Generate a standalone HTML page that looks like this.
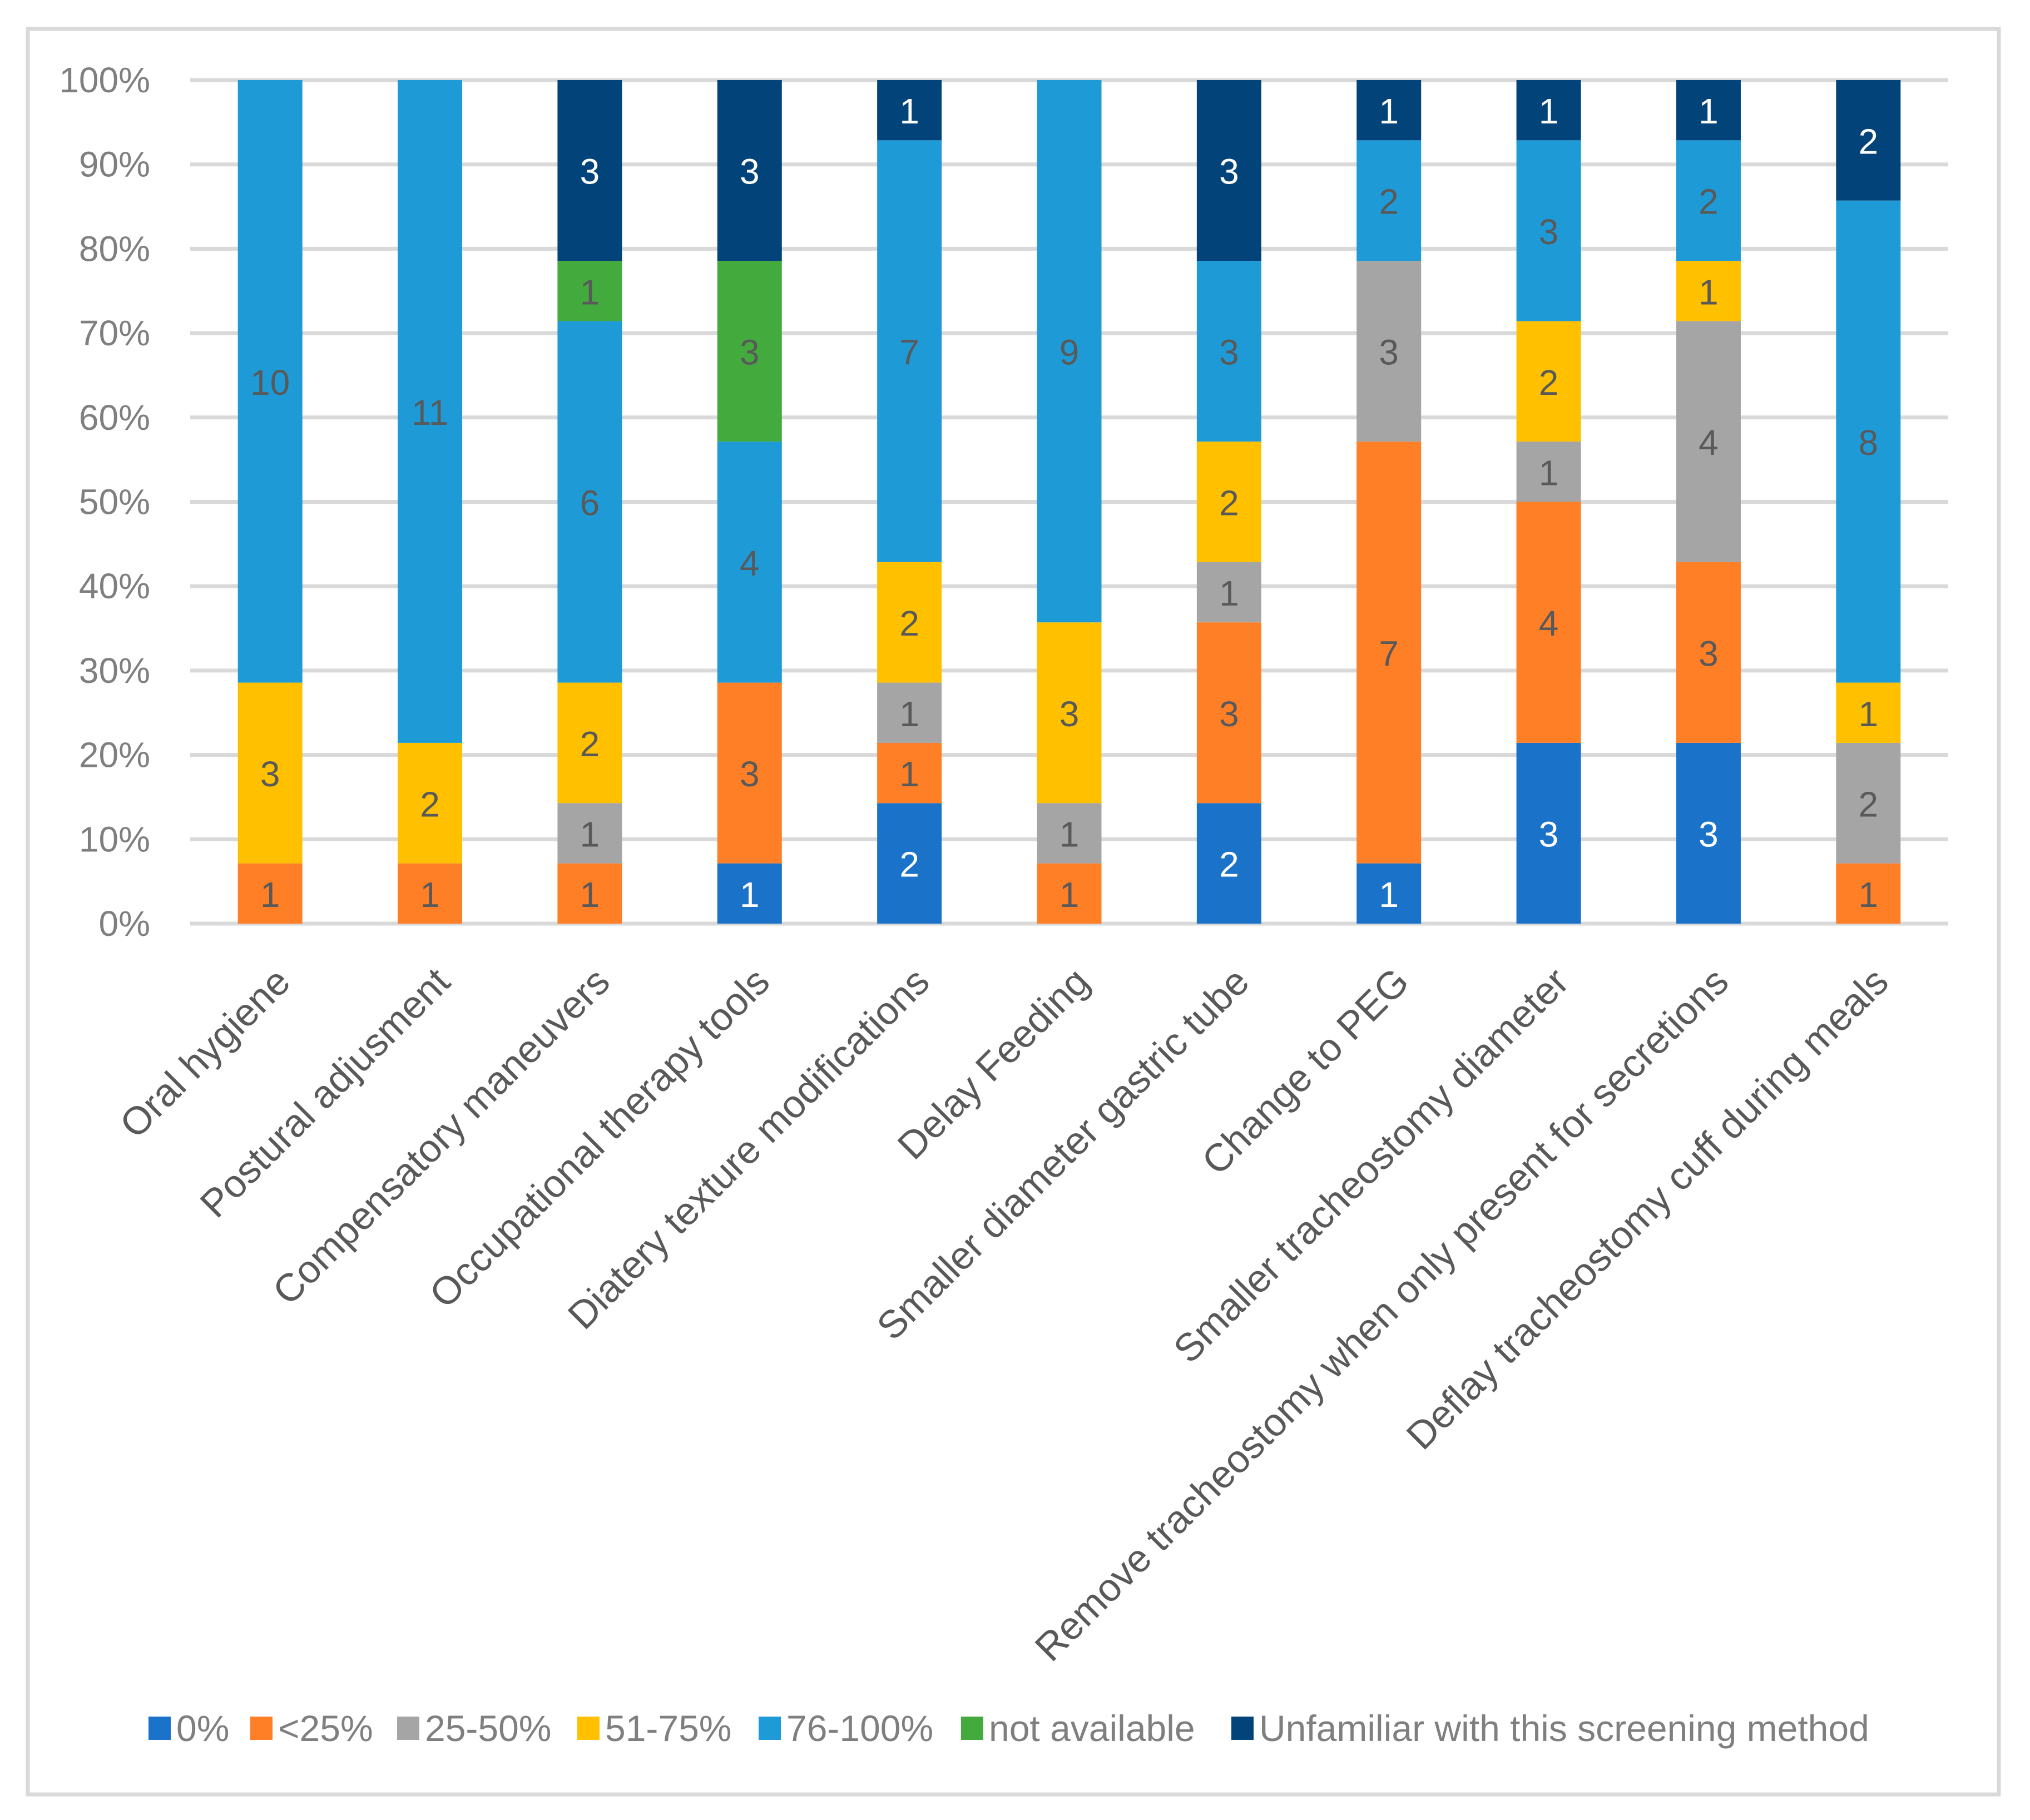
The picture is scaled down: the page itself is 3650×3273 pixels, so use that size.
<!DOCTYPE html>
<html><head><meta charset="utf-8"><style>
html,body{margin:0;padding:0;background:#fff;}
svg{display:block;font-family:"Liberation Sans",sans-serif;}
</style></head><body>
<svg id="chart" width="3650" height="3273" viewBox="0 0 3650 3273">
<rect x="50" y="52" width="3544" height="3175" fill="#fff" stroke="#d9d9d9" stroke-width="7"/>
<g id="grid"></g><g id="bars"></g><g id="ylabels"></g><g id="xlabels"></g><g id="legend"></g>
</svg>
<script>
const categories = ["Oral hygiene","Postural adjusment","Compensatory maneuvers","Occupational therapy tools","Diatery texture modifications","Delay Feeding","Smaller diameter gastric tube","Change to PEG","Smaller tracheostomy diameter","Remove tracheostomy when only present for secretions","Deflay tracheostomy cuff during meals"];
const seriesNames = ["0%","<25%","25-50%","51-75%","76-100%","not available","Unfamiliar with this screening method"];
const s0 = [0,0,0,1,2,0,2,1,3,3,0];
const s1 = [1,1,1,3,1,1,3,7,4,3,1];
const s2 = [0,0,1,0,1,1,1,3,1,4,2];
const s3 = [3,2,2,0,2,3,2,0,2,1,1];
const s4 = [10,11,6,4,7,9,3,2,3,2,8];
const s5 = [0,0,1,3,0,0,0,0,0,0,0];
const s6 = [0,0,3,3,1,0,3,1,1,1,2];
const yTicks = ["0%","10%","20%","30%","40%","50%","60%","70%","80%","90%","100%"];
const series = [s0,s1,s2,s3,s4,s5,s6];
const colors = ["#1A73C8","#FF7F27","#A5A5A5","#FFC000","#1E9BD7","#43AB3D","#024379"];
const labelColors = ["#fff","#595959","#595959","#595959","#595959","#595959","#fff"];
const NS="http://www.w3.org/2000/svg";
const plotL=342, plotR=3503, y0=1661, y100=144;
const band=(plotR-plotL)/categories.length, barW=116;
function yScale(f){return y0-(y0-y100)*f;}
function xCenter(i){return plotL+band*(i+0.5);}
function mk(tag,attrs,parent){const e=document.createElementNS(NS,tag);for(const k in attrs)e.setAttribute(k,attrs[k]);parent.appendChild(e);return e;}
const grid=document.getElementById('grid'), ylab=document.getElementById('ylabels');
yTicks.forEach((t,i)=>{
  const y=yScale(i/(yTicks.length-1));
  const l=mk('line',{x1:plotL,x2:plotR,y1:y,y2:y,stroke:'#d9d9d9','stroke-width':7},grid);
  
  
  const tx=mk('text',{x:270,y:y+22,'text-anchor':'end','font-size':64,fill:'#7f7f7f'},ylab);
  tx.textContent=t;
  
  
});
const bars=document.getElementById('bars');
categories.forEach((c,i)=>{
  let total=0; series.forEach(s=>total+=s[i]);
  let cum=0; const cx=xCenter(i);
  series.forEach((s,k)=>{
    const v=s[i]; if(!v) return;
    const yTop=yScale((cum+v)/total), yBot=yScale(cum/total);
    const r=mk('rect',{x:cx-barW/2,y:yTop,width:barW,height:yBot-yTop,fill:colors[k]},bars);
    
    
    const t=mk('text',{x:cx,y:(yTop+yBot)/2+24,'text-anchor':'middle','font-size':64,fill:labelColors[k]},bars);
    t.textContent=v;
    
    
    cum+=v;
  });
  const xl=document.getElementById('xlabels');
  const ax=cx+40, ay=1770;
  const t=mk('text',{x:ax,y:ay,'text-anchor':'end','font-size':70,fill:'#595959',transform:`rotate(-45 ${ax} ${ay})`},xl);
  t.textContent=c;
  
  
});
const leg=document.getElementById('legend');
const legX=[267,450,714,1038,1364,1728,2214];
seriesNames.forEach((n,k)=>{
  const g=mk('g',{},leg);
  
  
  mk('rect',{x:legX[k],y:3087,width:40,height:42,fill:colors[k]},g);
  const t=mk('text',{x:legX[k]+50,y:3131,'font-size':66,fill:'#7f7f7f'},g);
  t.textContent=n;
});
</script>
</body></html>
